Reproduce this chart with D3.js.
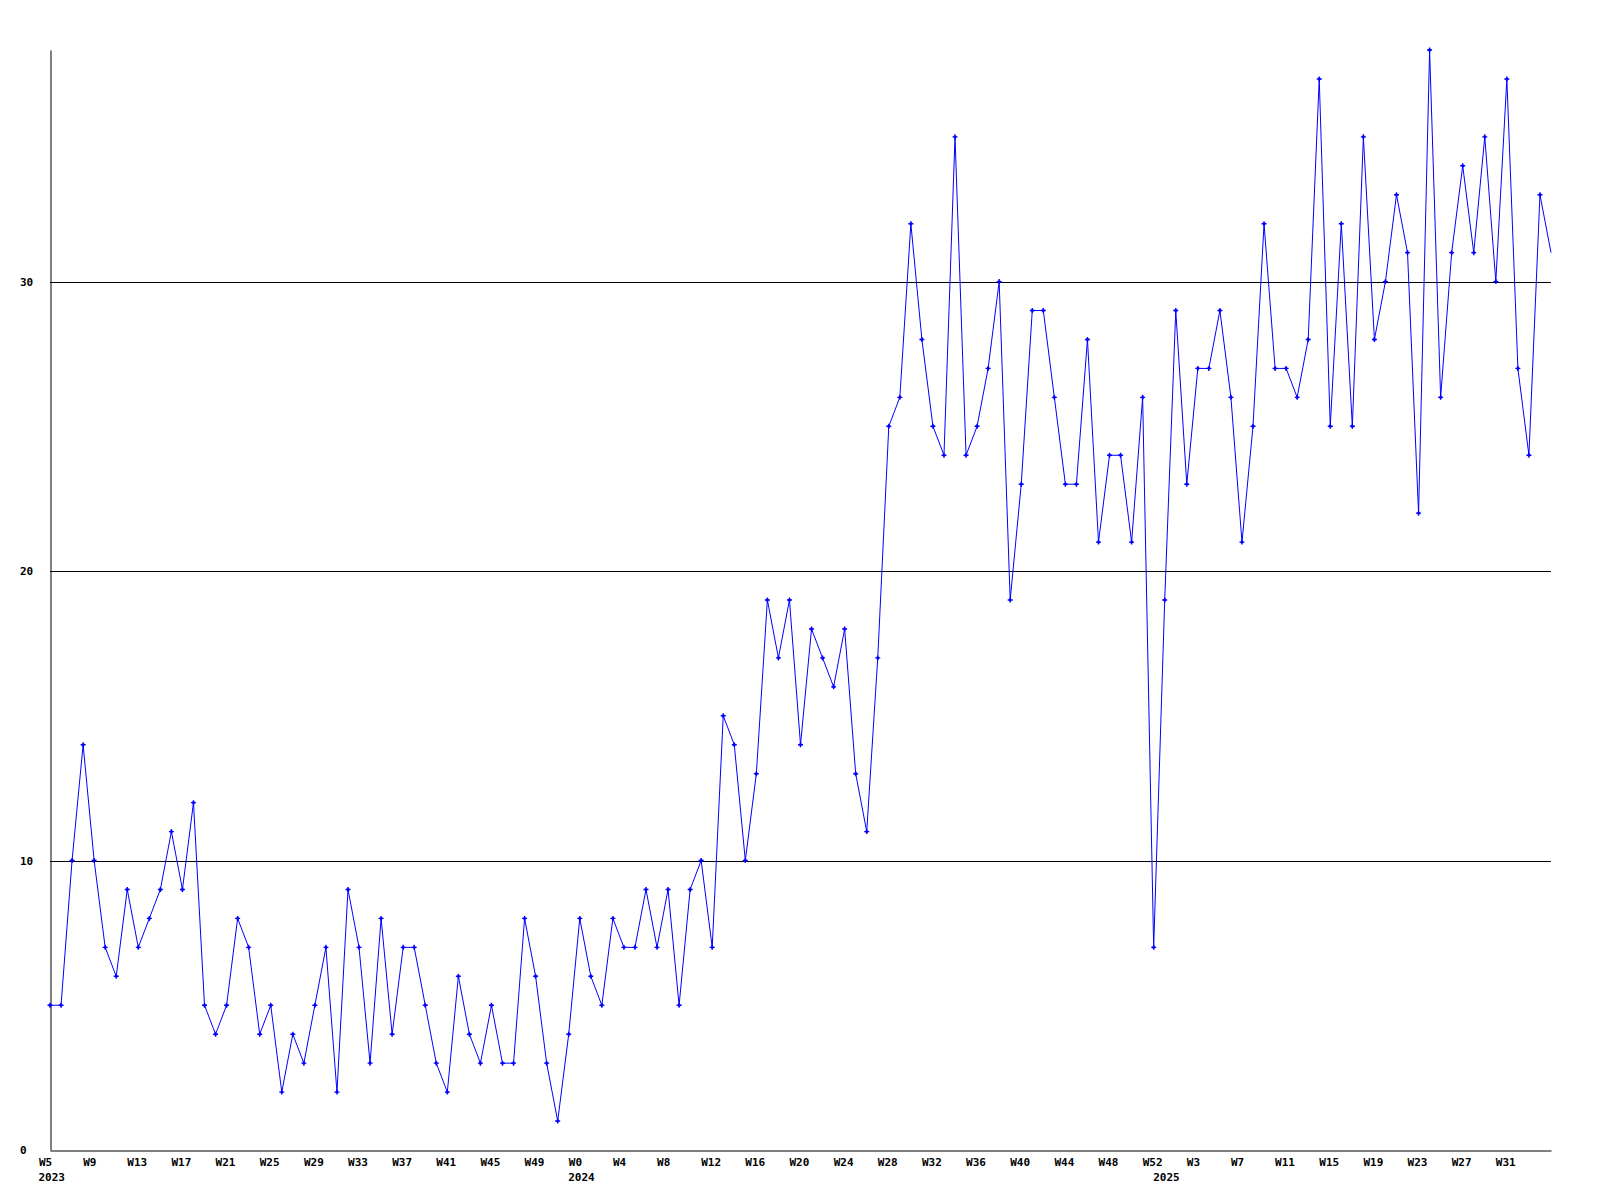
<!DOCTYPE html>
<html>
<head>
<meta charset="utf-8">
<script src="https://cdn.jsdelivr.net/npm/d3@7"></script>
<style>
  html, body { margin: 0; padding: 0; background: #ffffff; }
  svg { display: block; }
  text { font-family: "DejaVu Sans Mono", "Liberation Mono", monospace; font-size: 11px; font-weight: bold; fill: #000; }
</style>
</head>
<body>
<script>
// ---- data ----
const years = [2023, 2024, 2025];
const firstWeek = [5, 0, 0];
const lastWeek = [52, 52, 35];

const values = [
  // 2023 W5 - W52
  5, 5, 10, 14, 10, 7, 6, 9, 7, 8, 9, 11, 9, 12, 5, 4, 5, 8, 7, 4, 5, 2, 4, 3,
  5, 7, 2, 9, 7, 3, 8, 4, 7, 7, 5, 3, 2, 6, 4, 3, 5, 3, 3, 8, 6, 3, 1, 4,
  // 2024 W0 - W52
  8, 6, 5, 8, 7, 7, 9, 7, 9, 5, 9, 10, 7, 15, 14, 10, 13, 19, 17, 19, 14, 18, 17, 16,
  18, 13, 11, 17, 25, 26, 32, 28, 25, 24, 35, 24, 25, 27, 30, 19, 23, 29, 29, 26, 23, 23,
  28, 21, 24, 24, 21, 26, 7,
  // 2025 W0 - W35
  19, 29, 23, 27, 27, 29, 26, 21, 25, 32, 27, 27, 26, 28, 37, 25, 32, 25, 35, 28, 30, 33,
  31, 22, 38, 26, 31, 34, 31, 35, 30, 37, 27, 24, 33, 31
];

const yTicks = [0, 10, 20, 30];
const yMax = 38;
const labelEvery = 4;

// ---- categories ----
const categories = [];
const weekOf = new Map();
const yearStartCats = [];
years.forEach((yr, i) => {
  for (let w = firstWeek[i]; w <= lastWeek[i]; w++) {
    const key = yr + "-W" + w;
    categories.push(key);
    weekOf.set(key, "W" + w);
    if (w === firstWeek[i]) yearStartCats.push({ key, yr });
  }
});

const chartW = 1600, chartH = 1200;
const plotLeft = 50, plotRight = 1551, plotTop = 50, plotBottom = 1150;

const svg = d3.select("body").append("svg").attr("width", chartW).attr("height", chartH);

const x = d3.scalePoint().domain(categories).range([plotLeft, plotRight]);
const y = d3.scaleLinear().domain([0, yMax]).range([plotBottom, plotTop]);

// gridlines
svg.append("g")
  .selectAll("line")
  .data(yTicks.filter(t => t > 0))
  .join("line")
  .attr("x1", plotLeft).attr("x2", plotRight)
  .attr("y1", d => Math.round(y(d)) + 0.5).attr("y2", d => Math.round(y(d)) + 0.5)
  .attr("stroke", "#000").attr("stroke-width", 1);

// y axis
const yAxis = svg.append("g")
  .attr("transform", `translate(${plotLeft + 0.5},0)`)
  .call(d3.axisLeft(y).tickValues(yTicks).tickSize(0).tickSizeOuter(0).tickFormat(d3.format("d")));
yAxis.select(".domain").attr("stroke", "#000").attr("stroke-width", 1);
yAxis.selectAll("text")
  .attr("text-anchor", "start")
  .attr("x", -30.5)
  .attr("dy", "0.35em")
  .style("font-family", "DejaVu Sans Mono").style("font-size", "11px").style("font-weight", "bold");

// x axis (the final point sits on the right edge and gets no label)
const tickCats = categories.filter((c, i) => i % labelEvery === 0 && i < categories.length - 1);
const xAxis = svg.append("g")
  .attr("transform", `translate(0,${plotBottom + 0.5})`)
  .call(d3.axisBottom(x).tickValues(tickCats).tickSize(0).tickSizeOuter(0).tickFormat(d => weekOf.get(d)));
xAxis.select(".domain").attr("stroke", "#000").attr("stroke-width", 1);
xAxis.selectAll("text")
  .attr("text-anchor", "start")
  .attr("x", -11.5)
  .attr("y", 15.5)
  .attr("dy", 0)
  .style("font-family", "DejaVu Sans Mono").style("font-size", "11px").style("font-weight", "bold");

// year labels
svg.append("g")
  .selectAll("text")
  .data(yearStartCats)
  .join("text")
  .attr("x", d => x(d.key) - 11.5)
  .attr("y", plotBottom + 31)
  .attr("text-anchor", "start")
  .text(d => d.yr);

// series line
const pts = categories.map((c, i) => ({ c, v: values[i] }));
svg.append("path")
  .datum(pts)
  .attr("fill", "none")
  .attr("stroke", "#0000ff")
  .attr("stroke-width", 1)
  .attr("d", d3.line().x(d => x(d.c)).y(d => y(d.v)));

// markers (last one falls on the plot edge and is not drawn)
const mk = svg.append("g").attr("fill", "#0000ff").attr("stroke", "#0000ff");
mk.selectAll("path")
  .data(pts.slice(0, pts.length - 1))
  .join("path")
  .attr("transform", d => `translate(${x(d.c)},${y(d.v)})`)
  .attr("stroke-width", 1.4)
  .attr("d", "M-2.5,0H2.5M0,-2.5V2.5");
mk.selectAll("rect")
  .data(pts.slice(0, pts.length - 1))
  .join("rect")
  .attr("x", d => x(d.c) - 1.2).attr("y", d => y(d.v) - 1.2)
  .attr("width", 2.4).attr("height", 2.4)
  .attr("stroke", "none");
</script>
</body>
</html>
